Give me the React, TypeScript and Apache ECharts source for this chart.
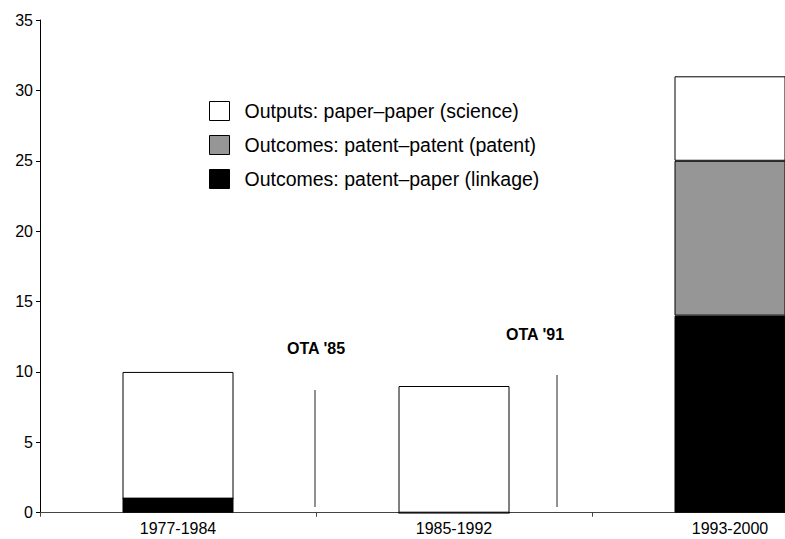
import React, { useEffect, useRef } from "react";
import * as echarts from "echarts";

const categories = ["1977-1984", "1985-1992", "1993-2000"];
const linkageValues = [1, 0, 14];
const patentValues = [0, 0, 11];
const scienceValues = [9, 9, 6];
const yTicks = { min: 0, max: 35, interval: 5 };

const seriesNames = {
  science: "Outputs: paper\u2013paper (science)",
  patent: "Outcomes: patent\u2013patent (patent)",
  linkage: "Outcomes: patent\u2013paper (linkage)",
};

const annotations = [
  { label: "OTA '85", textX: 287, textY: 349, lineX: 315, lineTop: 390, lineBottom: 507 },
  { label: "OTA '91", textX: 506, textY: 335, lineX: 557, lineTop: 375, lineBottom: 507 },
];

const FONT = '"Liberation Sans", Arial, Helvetica, sans-serif';

export default function App() {
  const ref = useRef<HTMLDivElement>(null);
  useEffect(() => {
    if (!ref.current) return;
    const chart = echarts.init(ref.current, undefined, { renderer: "svg" });
    const barBase = {
      type: "bar" as const,
      stack: "total",
      barWidth: 111,
      itemStyle: { borderColor: "#000", borderWidth: 1 },
    };
    const graphics: any[] = [];
    annotations.forEach((a) => {
      graphics.push({
        type: "text",
        left: a.textX,
        top: a.textY - 9,
        style: { text: a.label, fill: "#000", font: `bold 16px ${FONT}` },
      });
      graphics.push({
        type: "line",
        shape: { x1: a.lineX, y1: a.lineTop, x2: a.lineX, y2: a.lineBottom },
        style: { stroke: "#222", lineWidth: 1 },
      });
    });
    chart.setOption({
      animation: false,
      textStyle: { fontFamily: FONT },
      grid: { left: 40, top: 20, right: 2, bottom: 26.3, containLabel: false },
      legend: {
        orient: "vertical",
        left: 209,
        top: 101,
        padding: 0,
        itemWidth: 20,
        itemHeight: 19,
        itemGap: 14,
        icon: "rect",
        selectedMode: false,
        data: [seriesNames.science, seriesNames.patent, seriesNames.linkage],
        itemStyle: { borderColor: "#000", borderWidth: 1 },
        textStyle: { fontSize: 19.5, color: "#000", fontFamily: FONT, padding: [0, 0, 0, 10] },
      },
      xAxis: {
        type: "category",
        data: categories,
        axisLine: { lineStyle: { color: "#444", width: 1 } },
        axisTick: { show: true, length: 4, lineStyle: { color: "#444" } },
        axisLabel: { color: "#000", fontSize: 16, margin: 8, fontFamily: FONT },
      },
      yAxis: {
        type: "value",
        min: yTicks.min,
        max: yTicks.max,
        interval: yTicks.interval,
        splitLine: { show: false },
        axisLine: { show: true, lineStyle: { color: "#000", width: 1 } },
        axisTick: { show: true, length: 4, lineStyle: { color: "#000" } },
        axisLabel: { color: "#000", fontSize: 16, margin: 7, fontFamily: FONT },
      },
      series: [
        { ...barBase, name: seriesNames.linkage, data: linkageValues, itemStyle: { ...barBase.itemStyle, color: "#000" } },
        { ...barBase, name: seriesNames.patent, data: patentValues, itemStyle: { ...barBase.itemStyle, color: "#969696" } },
        { ...barBase, name: seriesNames.science, data: scienceValues, itemStyle: { ...barBase.itemStyle, color: "#fff" } },
      ],
      graphic: graphics,
    });
    return () => chart.dispose();
  }, []);
  return (
    <div style={{ position: "fixed", left: 0, top: 0, width: 785, height: 539, overflow: "hidden", background: "#fff" }}>
      <div ref={ref} style={{ width: 870, height: 539 }} />
    </div>
  );
}
